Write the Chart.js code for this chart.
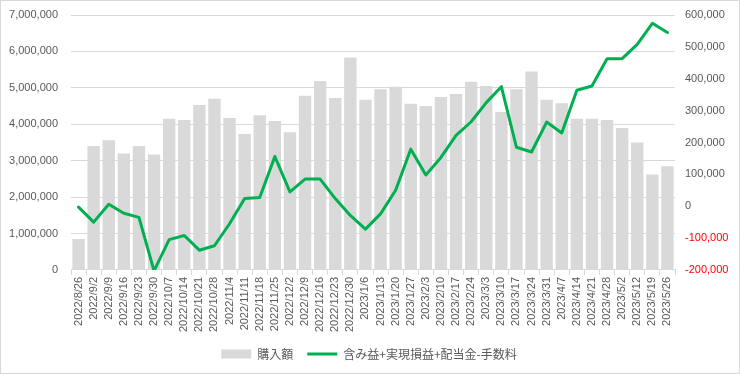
<!DOCTYPE html>
<html>
<head>
<meta charset="utf-8">
<script src="https://cdn.jsdelivr.net/npm/chart.js@4.4.0/dist/chart.umd.min.js"></script>
<style>
    html, body { margin: 0; padding: 0; background: #fff; }
    #wrap { width: 740px; height: 374px; }
</style>
</head>
<body>
<div id="wrap"><canvas id="chart-portfolio"></canvas></div>
<script>
// Data
const weekLabels = [
    '2022/8/26', '2022/9/2', '2022/9/9', '2022/9/16', '2022/9/23', '2022/9/30',
    '2022/10/7', '2022/10/14', '2022/10/21', '2022/10/28', '2022/11/4', '2022/11/11',
    '2022/11/18', '2022/11/25', '2022/12/2', '2022/12/9', '2022/12/16', '2022/12/23',
    '2022/12/30', '2023/1/6', '2023/1/13', '2023/1/20', '2023/1/27', '2023/2/3',
    '2023/2/10', '2023/2/17', '2023/2/24', '2023/3/3', '2023/3/10', '2023/3/17',
    '2023/3/24', '2023/3/31', '2023/4/7', '2023/4/14', '2023/4/21', '2023/4/28',
    '2023/5/2', '2023/5/12', '2023/5/19', '2023/5/26'
];

// 購入額 (left axis)
const purchaseAmounts = [
    850000, 3400000, 3560000, 3200000, 3400000, 3170000,
    4150000, 4120000, 4530000, 4700000, 4170000, 3730000,
    4250000, 4090000, 3780000, 4780000, 5190000, 4720000,
    5830000, 4670000, 4960000, 5030000, 4560000, 4500000,
    4750000, 4830000, 5170000, 5050000, 4340000, 4960000,
    5450000, 4670000, 4580000, 4150000, 4150000, 4120000,
    3900000, 3500000, 2620000, 2850000
];

// 含み益+実現損益+配当金-手数料 (right axis)
const totalProfit = [
    -3000, -50000, 6000, -22000, -35000, -203000,
    -105000, -92000, -138000, -124000, -55000, 24000,
    27000, 156000, 45000, 85000, 85000, 24000,
    -29000, -72000, -24000, 50000, 179000, 98000,
    153000, 222000, 265000, 325000, 375000, 185000,
    170000, 264000, 230000, 364000, 377000, 463000,
    463000, 508000, 574000, 545000
];

const labelColor = '#595959';
const gridColor = '#d9d9d9';

const frameBorder = {
    id: 'frameBorder',
    afterDraw(chart) {
        const ctx = chart.ctx;
        ctx.save();
        ctx.strokeStyle = gridColor;
        ctx.lineWidth = 1;
        ctx.strokeRect(0.5, 0.5, chart.width - 1, chart.height - 1);
        ctx.restore();
    }
};

// fixed axis widths, no extra label padding at the top
const fitAxis = width => scale => {
    scale.width = width;
    scale.paddingTop = 0;
    scale.paddingBottom = 0;
};

new Chart(document.getElementById('chart-portfolio'), {
    type: 'bar',
    data: {
        labels: weekLabels,
        datasets: [{
            label: '購入額',
            data: purchaseAmounts,
            backgroundColor: '#d9d9d9',
            borderWidth: 0,
            barPercentage: 0.82,
            categoryPercentage: 1,
            yAxisID: 'y',
            pointStyle: 'rect',
            order: 1
        }, {
            type: 'line',
            label: '含み益+実現損益+配当金-手数料',
            data: totalProfit,
            borderColor: '#00b050',
            backgroundColor: '#00b050',
            borderWidth: 3,
            borderJoinStyle: 'round',
            borderCapStyle: 'round',
            pointRadius: 0,
            tension: 0,
            yAxisID: 'y1',
            pointStyle: 'line',
            order: 0
        }]
    },
    options: {
        responsive: true,
        maintainAspectRatio: false,
        animation: false,
        layout: { padding: { top: 15, right: 2, bottom: 4, left: 0 } },
        plugins: {
            tooltip: { enabled: false },
            legend: {
                position: 'bottom',
                labels: {
                    usePointStyle: true,
                    pointStyleWidth: 30,
                    boxWidth: 30,
                    boxHeight: 9,
                    padding: 14,
                    color: labelColor,
                    font: { family: '"Noto Sans CJK JP", sans-serif', size: 12 },
                    sort: (a, b) => a.datasetIndex - b.datasetIndex
                }
            }
        },
        scales: {
            x: {
                offset: true,
                grid: { offset: true, drawOnChartArea: false, color: gridColor, tickLength: 5 },
                border: { color: gridColor },
                ticks: {
                    autoSkip: false,
                    minRotation: 90,
                    maxRotation: 90,
                    padding: 2,
                    color: labelColor,
                    font: { family: '"Liberation Sans", sans-serif', size: 11 }
                }
            },
            y: {
                position: 'left',
                min: 0,
                max: 7000000,
                afterFit: fitAxis(71),
                grid: { color: gridColor, drawTicks: false },
                border: { display: false },
                ticks: {
                    stepSize: 1000000,
                    padding: 13,
                    color: labelColor,
                    font: { family: '"Liberation Sans", sans-serif', size: 11 },
                    callback: v => v.toLocaleString('en-US')
                }
            },
            y1: {
                position: 'right',
                min: -200000,
                max: 600000,
                afterFit: fitAxis(63),
                grid: { display: false, drawTicks: false },
                border: { display: false },
                ticks: {
                    stepSize: 100000,
                    padding: 10,
                    color: ctx => ctx.tick.value < 0 ? '#ff0000' : labelColor,
                    font: { family: '"Liberation Sans", sans-serif', size: 11 },
                    callback: v => v.toLocaleString('en-US')
                }
            }
        }
    },
    plugins: [frameBorder]
});
</script>
</body>
</html>
